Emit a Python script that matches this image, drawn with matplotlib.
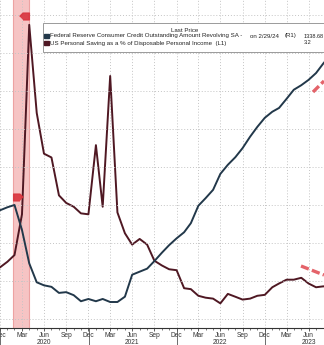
import datetime as dt
import matplotlib
matplotlib.use('Agg')
import matplotlib.pyplot as plt
import matplotlib.dates as mdates
from matplotlib.patches import Rectangle
import pandas as pd

plt.rcParams['font.family'] = ['Liberation Sans', 'DejaVu Sans']

# monthly points, month-end dates, Nov 2019 .. Sep 2023
months = pd.date_range('2019-11-30', '2023-09-30', freq='ME').to_pydatetime()

# US personal saving rate, % of disposable income (L1)
saving = [6.0, 6.4, 7.0, 7.7, 12.0, 32.0, 22.7, 18.4, 18.0, 14.0, 13.2, 12.8, 12.1, 12.0,
          19.3, 12.8, 26.6, 12.2, 10.0, 8.8, 9.4, 8.8, 7.1, 6.6, 6.2, 6.1,
          4.2, 4.1, 3.4, 3.2, 3.1, 2.6, 3.6, 3.3, 3.0, 3.1, 3.4, 3.5,
          4.3, 4.7, 5.1, 5.1, 5.3, 4.7, 4.3, 4.4, 4.2]

# revolving consumer credit outstanding, $bn (R1)
credit = [1091, 1093, 1097, 1100, 1067, 1023, 998, 994, 992, 984, 985, 981, 973, 976,
          973, 976, 972, 972, 979, 1008, 1012, 1016, 1026, 1037, 1047, 1056,
          1064, 1076, 1099, 1109, 1120, 1141, 1153, 1163, 1175, 1190, 1203, 1215,
          1223, 1228, 1240, 1252, 1258, 1265, 1274, 1287, 1298]

recession = (dt.datetime(2020, 2, 24), dt.datetime(2020, 4, 27))
years = [2020, 2021, 2022, 2023]

legend_rows = [
    ('Federal Reserve Consumer Credit Outstanding Amount Revolving SA -', 'on 2/29/24', '(R1)', '1338.68'),
    ('US Personal Saving as a % of Disposable Personal Income  (L1)', '', '', '3.2'),
]

NAVY = '#22384a'
MAROON = '#4f1823'
TAG = '#d9343d'

fig = plt.figure(figsize=(3.24, 3.45), dpi=100)
ax = fig.add_axes([0, 17 / 345, 1, 328 / 345])
ax2 = ax.twinx()

ax.axvspan(*recession, color='#f6c4c4', lw=0, zorder=0)
for d in recession:
    ax.axvline(d, color='#eda2a2', lw=0.8, zorder=0)

ax.plot(months, saving, color=MAROON, lw=1.4, zorder=3)
ax2.plot(months, credit, color=NAVY, lw=1.4, zorder=3)

# grid: horizontal from R1, vertical at quarter ends
ax2.set_yticks(range(950, 1351, 50))
ax2.grid(axis='y', color='#c4c4c4', ls=(0, (1, 2)), lw=0.7)
qticks = pd.date_range('2019-12-31', '2023-06-30', freq='QE-DEC').to_pydatetime()
ax.set_xticks(qticks)
ax.xaxis.set_major_formatter(mdates.DateFormatter('%b'))
ax.xaxis.set_minor_locator(mdates.MonthLocator(bymonthday=-1))
ax.grid(axis='x', color='#c4c4c4', ls=(0, (1, 2)), lw=0.7)

ax.set_ylim(0, 34.62)
ax2.set_ylim(937.7, 1370.4)
ax.set_xlim(dt.datetime(2019, 12, 31), dt.datetime(2023, 9, 2))

ax.tick_params(axis='x', which='major', length=2, width=0.6, pad=0.8,
               labelsize=4.8, labelcolor='#333333', color='#444444')
ax.tick_params(axis='x', which='minor', length=1.5, width=0.5, color='#444444')
ax.tick_params(axis='y', left=False, labelleft=False)
ax2.tick_params(axis='y', right=False, labelright=False)

for s in ['top', 'left', 'right']:
    ax.spines[s].set_visible(False)
for s in ax2.spines.values():
    s.set_visible(False)
ax.spines['bottom'].set_color('#333333')
ax.spines['bottom'].set_linewidth(0.8)

# year labels and separators
xt = ax.get_xaxis_transform()
for y in years:
    ax.text(dt.datetime(y, 6, 30), -0.044, str(y), transform=xt, ha='center', va='center',
            fontsize=4.8, color='#333333')
    ax.plot([dt.datetime(y, 1, 1)] * 2, [0, -0.06], transform=xt, color='#555555',
            lw=0.6, clip_on=False)

# legend box
bx0, by0 = 43 / 324, 1 - 52 / 328
ax2.add_patch(Rectangle((bx0, by0), 1.0, 29 / 328, transform=ax2.transAxes,
                        facecolor='white', edgecolor='#8a8a8a', lw=0.6, zorder=5))
ax2.text(185 / 324, 1 - 30 / 328, 'Last Price', transform=ax2.transAxes, ha='center',
         va='center', fontsize=4.4, color='#222222', zorder=6)
for i, (label, date, side, last) in enumerate(legend_rows):
    yy = 1 - (36 + 7 * i) / 328
    ax2.add_patch(Rectangle((44 / 324, yy - 2.2 / 328), 4.5 / 324, 4.5 / 328,
                            transform=ax2.transAxes, color=[NAVY, MAROON][i], zorder=6))
    ax2.text(50 / 324, yy, label, transform=ax2.transAxes, va='center', fontsize=4.4,
             color='#222222', zorder=6)
    ax2.text(250 / 324, yy, date, transform=ax2.transAxes, va='center', fontsize=4.4,
             color='#222222', zorder=6)
    ax2.text(285 / 324, yy, side, transform=ax2.transAxes, va='center', fontsize=4.4,
             color='#222222', zorder=6)
    ax2.text(304 / 324, yy, last, transform=ax2.transAxes, va='center', fontsize=4.0,
             color='#222222', zorder=6)

# red event tags on the recession band
left_tag = [(-1, 0), (-0.3, 0.7), (1, 0.7), (1, -0.7), (-0.3, -0.7)]
right_tag = [(-x, y) for x, y in left_tag]
ax2.plot([24 / 324], [1 - 16 / 328], transform=ax2.transAxes, marker=left_tag, ms=7,
         color=TAG, alpha=0.9, zorder=7, clip_on=False)
ax2.plot([18 / 324], [1 - 197 / 328], transform=ax2.transAxes, marker=right_tag, ms=7,
         color=TAG, alpha=0.9, zorder=7, clip_on=False)

# dashed red pointers drawn over the chart
for p0, p1 in [((301, 266), (324, 275)), ((313, 92), (324, 81))]:
    ax2.plot([p0[0] / 324, p1[0] / 324], [1 - p0[1] / 328, 1 - p1[1] / 328],
             transform=ax2.transAxes, color='#e04850', alpha=0.85, lw=2.4,
             ls=(0, (2.5, 1)), solid_capstyle='round', zorder=4)

fig.savefig('out.png', dpi=100)
